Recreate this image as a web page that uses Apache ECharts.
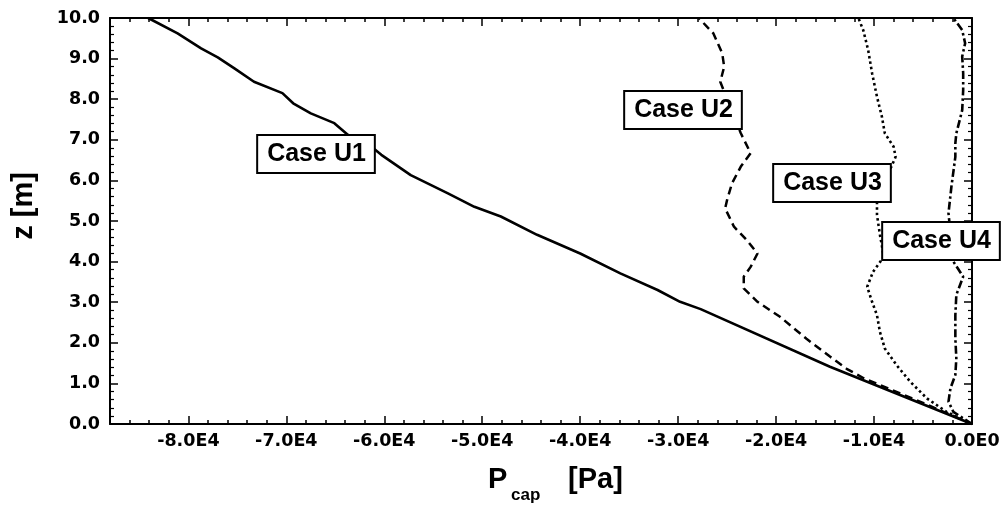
<!DOCTYPE html>
<html>
<head>
<meta charset="utf-8">
<script src="https://cdn.jsdelivr.net/npm/echarts@6/dist/echarts.min.js"></script>
<style>html,body{margin:0;padding:0;background:#fff}#c{width:1003px;height:506px}</style>
</head>
<body>
<div id="c"></div>
<script>
// Data: [Pcap (Pa), z (m)]
const caseU1 = [[0,0],[-14500,1.41],[-27700,2.83],[-29800,3.01],[-32100,3.30],[-35900,3.71],[-40000,4.20],[-44400,4.66],[-48100,5.11],[-50800,5.35],[-53500,5.68],[-57300,6.13],[-60300,6.63],[-60900,6.75],[-63700,7.12],[-65100,7.41],[-67500,7.65],[-69300,7.90],[-70400,8.15],[-73300,8.43],[-75300,8.76],[-77000,9.03],[-78700,9.25],[-81100,9.62],[-84100,10.0]];
const caseU2 = [[0,0],[-5000,0.52],[-11000,1.12],[-12800,1.36],[-14500,1.66],[-16900,2.10],[-19600,2.64],[-21900,3.01],[-23300,3.34],[-23300,3.63],[-22600,3.87],[-21900,4.20],[-23000,4.53],[-24300,4.86],[-25200,5.31],[-25000,5.52],[-24500,5.93],[-23600,6.34],[-22600,6.67],[-23600,7.16],[-25700,8.43],[-25300,8.80],[-25500,9.13],[-26400,9.62],[-27900,10.0]];
const caseU3 = [[0,0],[-2600,0.30],[-4600,0.63],[-6300,1.04],[-7700,1.45],[-8900,1.86],[-9400,2.27],[-9700,2.68],[-10200,3.01],[-10700,3.38],[-10100,3.75],[-9000,4.12],[-9400,4.66],[-9700,5.15],[-9700,5.52],[-7800,6.58],[-8000,6.83],[-8900,7.16],[-9200,7.57],[-9700,8.06],[-10200,8.64],[-10600,9.21],[-11100,9.70],[-11600,10.0]];
const caseU4 = [[0,0],[-1900,0.30],[-2400,0.55],[-2200,0.88],[-1700,1.21],[-1600,1.62],[-1700,2.11],[-1700,2.68],[-1600,3.18],[-900,3.63],[-1900,4.00],[-2400,5.19],[-2100,5.85],[-1700,6.58],[-1700,6.91],[-1600,7.16],[-1000,7.73],[-900,8.23],[-900,8.64],[-1000,9.05],[-700,9.38],[-1000,9.70],[-1900,10.0]];
const xTickValues = [-80000,-70000,-60000,-50000,-40000,-30000,-20000,-10000,0];
const xTickLabels = ['-8.0E4','-7.0E4','-6.0E4','-5.0E4','-4.0E4','-3.0E4','-2.0E4','-1.0E4','0.0E0'];
const yTickLabels = ['0.0','1.0','2.0','3.0','4.0','5.0','6.0','7.0','8.0','9.0','10.0'];
const caseNames = ['Case U1','Case U2','Case U3','Case U4'];

const chart = echarts.init(document.getElementById('c'), null, {renderer:'canvas'});
const tickFont = {fontFamily:'DejaVu Sans', fontWeight:'bold', fontSize:17.5, color:'#000'};
const X_MIN = -88000, X_MAX = 0;
function xAx(pos, major, withLine, withLabel){
  const ax = {type:'value', position:pos, min:X_MIN, max:X_MAX, splitLine:{show:false},
    axisLine:{show:withLine, onZero:false, lineStyle:{color:'#000', width:2}},
    axisTick:{show:true, inside:true, length: major?8:4, lineStyle:{color:'#000', width:1.5}},
    axisLabel:{show:false}};
  if (major){
    ax.axisTick.customValues = xTickValues;
    if (withLabel){
      ax.axisLabel = Object.assign({show:true, margin:8, customValues:xTickValues,
        formatter:function(v){const i=xTickValues.indexOf(v);return i>=0?xTickLabels[i]:'';}}, tickFont);
    }
  } else {
    ax.interval = 2000;
  }
  return ax;
}
function yAx(pos, withLabel){
  return {type:'value', position:pos, min:0, max:10, interval:1, splitLine:{show:false},
    axisLine:{show:true, onZero:false, lineStyle:{color:'#000', width:2}},
    axisTick:{show:true, inside:true, length:8, lineStyle:{color:'#000', width:1.5}},
    minorTick:{show:true, splitNumber:5, length:4, lineStyle:{color:'#000', width:1.2}},
    axisLabel: withLabel ? Object.assign({show:true, margin:10,
      formatter:function(v){return yTickLabels[Math.round(v)];}}, tickFont) : {show:false}};
}
function ser(name, data, type, width){
  return {name:name, type:'line', data:data, xAxisIndex:0, yAxisIndex:0, showSymbol:false, symbol:'none',
    smooth:false, silent:true, animation:false, z:2,
    lineStyle:{color:'#000', width:width, type:type, cap:'butt'}};
}
const bold = 'bold 25px "Liberation Sans"';
function box(text, x, y){
  return {type:'text', x:x, y:y, z:100, style:{text:text, font:bold, fill:'#000', align:'center', verticalAlign:'middle',
    backgroundColor:'#fff', borderColor:'#000', borderWidth:2, padding:[6,8,5,9]}};
}
chart.setOption({
  backgroundColor:'#fff',
  animation:false,
  grid:{left:110, right:31, top:18, bottom:82, containLabel:false, outerBoundsMode:'none'},
  xAxis:[xAx('bottom', true, true, true), xAx('bottom', false, false, false), xAx('top', true, true, false), xAx('top', false, false, false)],
  yAxis:[yAx('left', true), yAx('right', false)],
  series:[
    ser(caseNames[0], caseU1, 'solid', 2.6),
    ser(caseNames[1], caseU2, [8,5], 2.5),
    ser(caseNames[2], caseU3, [2.5,3], 2.6),
    ser(caseNames[3], caseU4, [8,3,2.5,3], 2.6)
  ],
  graphic:[
    box(caseNames[0], 316, 154),
    box(caseNames[1], 683, 110),
    box(caseNames[2], 832, 183),
    box(caseNames[3], 941, 241),
    {type:'text', x:24, y:206, rotation:Math.PI/2, style:{text:'z [m]', font:'bold 29px "Liberation Sans"', fill:'#000', align:'center', verticalAlign:'middle'}},
    {type:'text', x:488, y:480, style:{text:'P', font:'bold 29px "Liberation Sans"', fill:'#000', align:'left', verticalAlign:'middle'}},
    {type:'text', x:511, y:495, style:{text:'cap', font:'bold 17px "Liberation Sans"', fill:'#000', align:'left', verticalAlign:'middle'}},
    {type:'text', x:568, y:480, style:{text:'[Pa]', font:'bold 29px "Liberation Sans"', fill:'#000', align:'left', verticalAlign:'middle'}}
  ]
});
</script>
</body>
</html>
